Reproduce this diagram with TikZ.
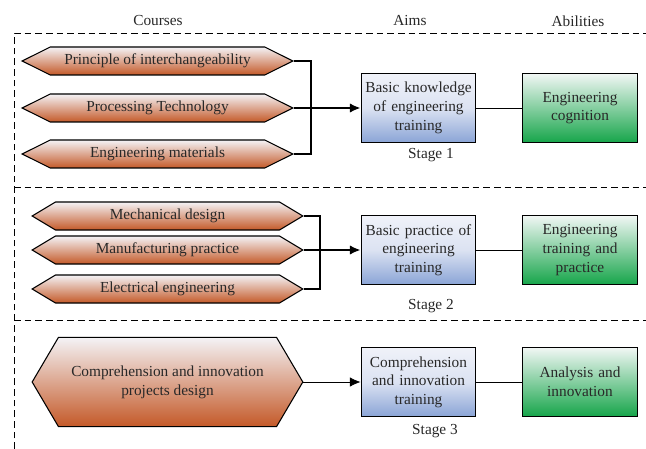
\documentclass[tikz,border=0pt]{standalone}
\usepackage{fontspec}
\setmainfont{Liberation Serif}
\usetikzlibrary{arrows.meta, positioning, shapes.symbols}

\definecolor{rust}{RGB}{196,89,40}
\definecolor{rustpale}{RGB}{244,243,246}
\definecolor{aimblue}{RGB}{138,164,214}
\definecolor{aimpale}{RGB}{240,242,249}
\definecolor{abilgreen}{RGB}{22,165,74}
\definecolor{abilpale}{RGB}{242,247,245}
\definecolor{txt}{RGB}{40,40,40}
\newcommand\nohyph{\hyphenpenalty=10000\relax\exhyphenpenalty=10000\relax}

\begin{document}
\begin{tikzpicture}[x=0.75pt, y=-0.75pt,
  every node/.style={align=center, text=txt, font=\fontsize{11.5}{14}\selectfont\nohyph},
  course/.style={signal, signal to=east and west, signal from=nowhere, draw, thick,
    top color=rustpale, bottom color=rust, minimum width=203pt, minimum height=21pt, inner sep=0pt},
  aim/.style={draw, thick, top color=aimpale, bottom color=aimblue, middle color=aimpale!80!aimblue,
    minimum width=86pt, minimum height=52pt, text width=84pt, inner sep=0pt},
  ability/.style={draw, thick, top color=abilpale, bottom color=abilgreen,
    minimum width=86pt, minimum height=52pt, text width=82pt, inner sep=0pt},
  frame/.style={dashed, dash pattern=on 5pt off 3pt, line width=0.6pt},
  feed/.style={line width=1.5pt},
  into/.style={-{Latex[length=8pt, width=7pt]}}
]
  \useasboundingbox (0,0) rectangle (646,449);

  % frame of the three stages
  \draw[frame] (14,449) -- (14,33) -- (646,33);
  \draw[frame] (14,187) -- (646,187);
  \draw[frame] (14,320) -- (646,320);

  \node (hcourses) at (158,21) {Courses};
  \node (haims) at (410,21) {Aims};
  \node (habil) at (578,21) {Abilities};

  % stage 1
  \node[course, signal pointer angle=53] (inter) at (157.5,61) {Principle of interchangeability};
  \node[course, signal pointer angle=53] (proc) at (157.5,108) {Processing Technology};
  \node[course, signal pointer angle=53] (mater) at (157.5,154) {Engineering materials};
  \node[aim] (basick) at (418.5,108) {Basic knowledge of engineering training};
  \node[ability] (cogn) at (580,108) {Engineering cognition};
  \node (stage1) at (431,155) {Stage 1};
  \coordinate (jA) at (311,108);

  \draw[feed] (inter.east) -| (jA) |- (mater.east);
  \draw[feed, into] (proc.east) -- (basick.west);
  \draw[semithick] (basick) -- (cogn);

  % stage 2
  \node[course, signal pointer angle=62] (mech) at (167.5,216) {Mechanical design};
  \node[course, signal pointer angle=62] (manu) at (167.5,250) {Manufacturing practice};
  \node[course, signal pointer angle=62] (elec) at (167.5,289) {Electrical engineering};
  \node[aim] (basicp) at (418.5,250) {Basic practice of engineering training};
  \node[ability] (trainp) at (580,250) {Engineering training and practice};
  \node (stage2) at (431,306) {Stage 2};
  \coordinate (jB) at (320,250);

  \draw[feed] (mech.east) -| (jB) |- (elec.east);
  \draw[feed, into] (manu.east) -- (basicp.west);
  \draw[semithick] (basicp) -- (trainp);

  % stage 3
  \node[course, signal pointer angle=119, minimum height=67pt] (proj) at (167.5,382)
    {Comprehension and innovation\\projects design};
  \node[aim] (compr) at (418.5,382) {Comprehension and innovation training};
  \node[ability] (analy) at (580,382) {Analysis and innovation};
  \node (stage3) at (435,431) {Stage 3};

  \draw[semithick, into] (proj.east) -- (compr.west);
  \draw[semithick] (compr) -- (analy);
\end{tikzpicture}
\end{document}
